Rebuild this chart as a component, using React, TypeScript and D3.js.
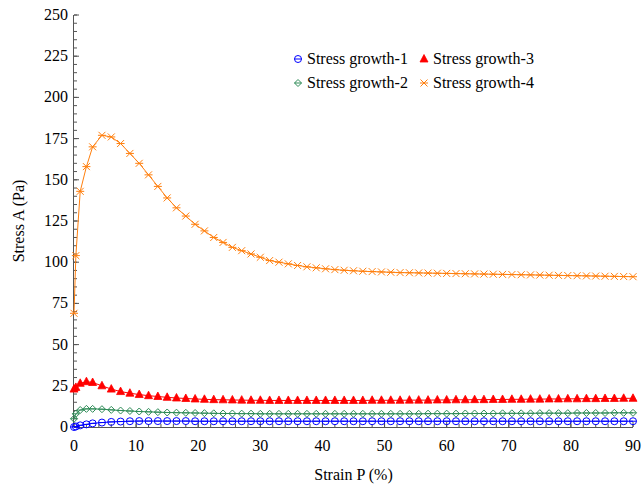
import React from "react";
import * as d3 from "d3";

const xs = [0, 0.3, 1, 2, 3, 4.5, 6, 7.5, 9, 10.5, 12, 13.5, 15, 16.5, 18, 19.5, 21, 22.5, 24, 25.5, 27, 28.5, 30, 31.5, 33, 34.5, 36, 37.5, 39, 40.5, 42, 43.5, 45, 46.5, 48, 49.5, 51, 52.5, 54, 55.5, 57, 58.5, 60, 61.5, 63, 64.5, 66, 67.5, 69, 70.5, 72, 73.5, 75, 76.5, 78, 79.5, 81, 82.5, 84, 85.5, 87, 88.5, 90];
const s1 = [0, 0.3, 1, 1.6, 2.2, 2.7, 3.1, 3.3, 3.5, 3.6, 3.6, 3.6, 3.6, 3.6, 3.6, 3.5, 3.5, 3.5, 3.5, 3.5, 3.5, 3.5, 3.5, 3.5, 3.5, 3.5, 3.5, 3.5, 3.5, 3.5, 3.5, 3.5, 3.5, 3.5, 3.5, 3.5, 3.5, 3.5, 3.5, 3.5, 3.5, 3.5, 3.5, 3.5, 3.5, 3.5, 3.5, 3.5, 3.5, 3.5, 3.5, 3.5, 3.5, 3.5, 3.5, 3.5, 3.5, 3.5, 3.5, 3.5, 3.5, 3.5, 3.5];
const s2 = [5, 8, 10.3, 11, 11, 10.8, 10.4, 10, 9.7, 9.4, 9.2, 9, 8.8, 8.7, 8.6, 8.5, 8.4, 8.3, 8.2, 8.2, 8.1, 8.1, 8, 8, 8, 8, 8, 8, 8, 8, 8, 8, 8, 8, 8, 8, 8, 8, 8, 8, 8.1, 8.1, 8.1, 8.1, 8.2, 8.2, 8.2, 8.2, 8.3, 8.3, 8.3, 8.3, 8.4, 8.4, 8.4, 8.4, 8.5, 8.5, 8.5, 8.5, 8.6, 8.6, 8.6];
const s3 = [23, 24, 26.5, 27.5, 27, 25, 23, 21.5, 20.5, 19.7, 19, 18.5, 18, 17.6, 17.3, 17, 16.8, 16.6, 16.5, 16.4, 16.3, 16.2, 16.2, 16.1, 16.1, 16.1, 16.1, 16.1, 16.1, 16.1, 16.1, 16.1, 16.1, 16.1, 16.2, 16.2, 16.2, 16.2, 16.3, 16.3, 16.3, 16.4, 16.4, 16.5, 16.5, 16.6, 16.6, 16.7, 16.7, 16.8, 16.8, 16.9, 16.9, 17, 17, 17.1, 17.1, 17.2, 17.2, 17.3, 17.3, 17.4, 17.4];
const s4 = [69, 104, 143, 158, 170, 177, 176, 172, 166, 160, 153, 146, 139, 133, 128, 123, 119, 115, 112, 109, 107, 105, 103, 101, 100, 99, 98, 97.2, 96.6, 96, 95.5, 95.1, 94.8, 94.5, 94.3, 94.1, 93.9, 93.7, 93.6, 93.5, 93.4, 93.3, 93.2, 93.1, 93, 92.9, 92.8, 92.7, 92.6, 92.5, 92.4, 92.3, 92.2, 92.1, 92, 91.9, 91.8, 91.7, 91.6, 91.5, 91.4, 91.3, 91.2];
const xTicks = [0, 10, 20, 30, 40, 50, 60, 70, 80, 90];
const yTicks = [0, 25, 50, 75, 100, 125, 150, 175, 200, 225, 250];
const names = ["Stress growth-1", "Stress growth-2", "Stress growth-3", "Stress growth-4"];
const colors = ["#0000ff", "#2e8b57", "#ff0000", "#ff7f0e"];

const font = "'Liberation Serif', 'DejaVu Serif', serif";

function Marker({ kind, x, y, c }: { kind: number; x: number; y: number; c: string }) {
  if (kind === 0)
    return (
      <g>
        <circle cx={x} cy={y} r={3.5} fill="none" stroke={c} strokeWidth={1} />
        <line x1={x - 3.5} x2={x + 3.5} y1={y} y2={y} stroke={c} strokeWidth={1} />
      </g>
    );
  if (kind === 1)
    return <path d={`M${x},${y - 3.5}L${x + 3.5},${y}L${x},${y + 3.5}L${x - 3.5},${y}Z M${x - 3.5},${y}L${x + 3.5},${y}`} fill="none" stroke={c} strokeWidth={1} />;
  if (kind === 2)
    return <path d={`M${x},${y - 4.5}L${x + 4},${y + 3}L${x - 4},${y + 3}Z`} fill={c} stroke={c} strokeWidth={0.8} />;
  return (
    <path d={`M${x - 3.5},${y - 3.5}L${x + 3.5},${y + 3.5}M${x - 3.5},${y + 3.5}L${x + 3.5},${y - 3.5}M${x - 4},${y}L${x + 4},${y}`} stroke={c} strokeWidth={1} fill="none" />
  );
}

export default function App() {
  const W = 642, H = 489;
  const x = d3.scaleLinear().domain([0, 90]).range([74, 633]);
  const y = d3.scaleLinear().domain([0, 250]).range([427, 15]);
  const series = [s1, s2, s3, s4];
  const line = (s: number[]) =>
    d3.line<number>().x((_, i) => x(xs[i])).y((d) => y(d))(s) || "";
  const minorX = d3.range(0, 91, 2);
  const minorY = d3.range(0, 251, 5);
  return (
    <svg width={W} height={H} style={{ position: "absolute", left: 0, top: 0, background: "#fff" }}>
      <g stroke="#555" strokeWidth={1}>
        <line x1={x(0)} x2={x(90)} y1={y(0) + 0.5} y2={y(0) + 0.5} />
        <line x1={x(0) - 0.5} x2={x(0) - 0.5} y1={y(0)} y2={y(250)} />
        {xTicks.map((t) => (
          <line key={"xt" + t} x1={x(t)} x2={x(t)} y1={y(0)} y2={y(0) - 5} />
        ))}
        {minorX.map((t) => (
          <line key={"xm" + t} x1={x(t)} x2={x(t)} y1={y(0)} y2={y(0) - 3} />
        ))}
        {yTicks.map((t) => (
          <line key={"yt" + t} x1={x(0)} x2={x(0) + 5} y1={y(t)} y2={y(t)} />
        ))}
        {minorY.map((t) => (
          <line key={"ym" + t} x1={x(0)} x2={x(0) + 3} y1={y(t)} y2={y(t)} />
        ))}
      </g>
      <g fontFamily={font} fontSize={16} fill="#000">
        {xTicks.map((t) => (
          <text key={"xl" + t} x={x(t)} y={451} textAnchor="middle">{t}</text>
        ))}
        {yTicks.map((t) => (
          <text key={"yl" + t} x={x(0) - 6} y={y(t) + 5} textAnchor="end">{t}</text>
        ))}
        <text x={x(45)} y={480} textAnchor="middle">Strain P (%)</text>
        <text transform={`translate(24,${y(125)}) rotate(-90)`} textAnchor="middle">Stress A (Pa)</text>
      </g>
      {series.map((s, k) => (
        <g key={k}>
          <path d={line(s)} fill="none" stroke={colors[k]} strokeWidth={1} />
          {s.map((v, i) => (
            <Marker key={i} kind={k} x={x(xs[i])} y={y(v)} c={colors[k]} />
          ))}
        </g>
      ))}
      <g fontFamily={font} fontSize={16}>
        {names.map((n, k) => {
          const col = k < 2 ? 0 : 1;
          const row = k % 2;
          const lx = 298 + col * 126;
          const ly = 59 + row * 24;
          return (
            <g key={n}>
              <Marker kind={k} x={lx} y={ly} c={colors[k]} />
              <text x={lx + 9} y={ly + 5}>{n}</text>
            </g>
          );
        })}
      </g>
    </svg>
  );
}
